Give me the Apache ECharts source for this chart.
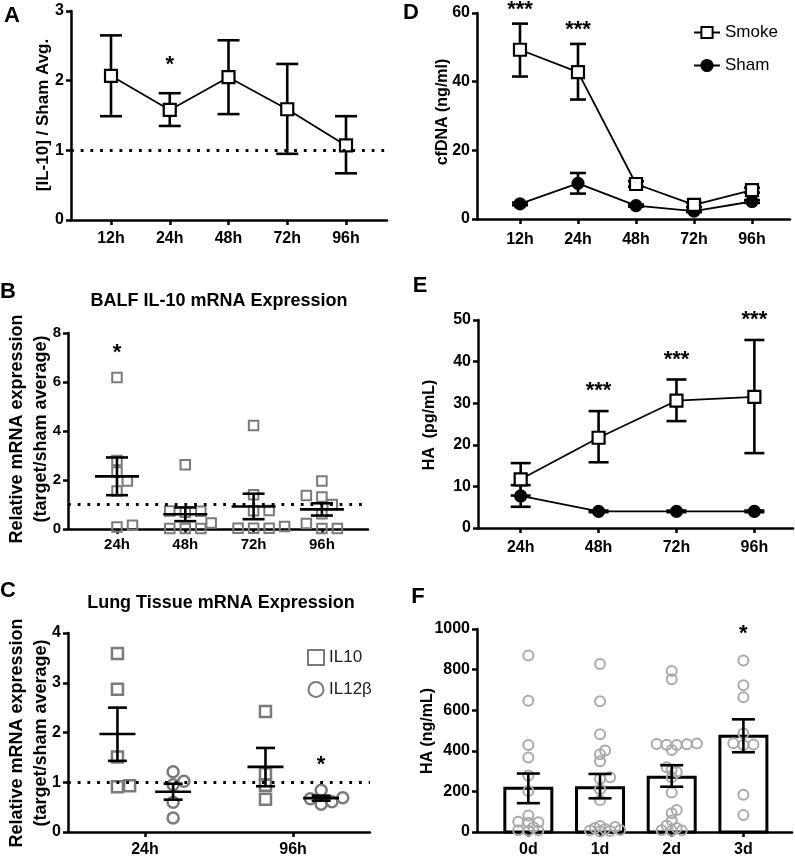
<!DOCTYPE html>
<html>
<head>
<meta charset="utf-8">
<script src="https://cdn.jsdelivr.net/npm/echarts@6/dist/echarts.min.js"></script>
<style>
html,body{margin:0;padding:0;background:#fff;}
#main{width:795px;height:858px;}
</style>
</head>
<body>
<div id="main"></div>
<script>
/******************** A: IL-10 / Sham ********************/
var timeA = ['12h', '24h', '48h', '72h', '96h'];
var meanA = [2.07, 1.58, 2.05, 1.59, 1.07];
var lowA = [1.49, 1.35, 1.52, 0.95, 0.67];
var highA = [2.65, 1.82, 2.58, 2.24, 1.49];
var sigA = ['', '*', '', '', ''];

/******************** D: cfDNA ********************/
var timeD = ['12h', '24h', '48h', '72h', '96h'];
var smokeD = [49.3, 42.8, 10.2, 4.1, 8.4];
var smokeLowD = [41.5, 34.8, 9.4, 3.5, 7.7];
var smokeHighD = [56.9, 51.0, 11.0, 4.7, 9.1];
var shamD = [4.4, 10.4, 3.9, 2.3, 5.1];
var shamLowD = [4.0, 7.4, 3.6, 2.0, 4.7];
var shamHighD = [4.8, 13.4, 4.2, 2.6, 5.5];
var sigD = ['***', '***', '', '', ''];

/******************** B: BALF IL-10 mRNA ********************/
var timeB = ['24h', '48h', '72h', '96h'];
var balf24 = [6.18, 2.33, 1.96, 2.80, 1.55, 0.08, 0.15];
var balf48 = [2.62, 0.73, 0.68, 0.72, 0.24, 0.02, 0.02, 0.02];
var balf72 = [4.22, 1.40, 0.76, 0.74, 0.10, 0.03, 0.03, 0.03];
var balf96 = [1.96, 1.31, 1.37, 1.00, 0.62, 0.22, 0.02, 0.02];
var meanB = [2.15, 0.60, 0.92, 0.80];
var lowB = [1.38, 0.32, 0.40, 0.55];
var highB = [2.92, 0.88, 1.44, 1.05];
var sigB = ['*', '', '', ''];

/******************** E: HA (pg/mL) ********************/
var timeE = ['24h', '48h', '72h', '96h'];
var smokeE = [11.7, 21.7, 30.6, 31.5];
var smokeLowE = [7.8, 15.8, 25.7, 18.0];
var smokeHighE = [15.6, 28.1, 35.7, 45.2];
var shamE = [7.7, 4.0, 4.0, 4.0];
var shamLowE = [5.1, 3.8, 3.8, 3.8];
var shamHighE = [10.3, 4.2, 4.2, 4.2];
var sigE = ['', '***', '***', '***'];

/******************** C: Lung tissue mRNA ********************/
var timeC = ['24h', '96h'];
var il10_24 = [3.59, 2.87, 1.51, 0.91, 0.93];
var il10_96 = [2.42, 1.17, 0.94, 0.66];
var il12_24 = [1.02, 0.95, 1.21, 0.60, 0.28];
var il12_96 = [0.69, 0.56, 0.61, 0.84, 0.67];
var meanIL10 = [1.97, 1.31];
var lowIL10 = [1.43, 0.92];
var highIL10 = [2.50, 1.69];
var meanIL12 = [0.81, 0.68];
var lowIL12 = [0.65, 0.63];
var highIL12 = [0.97, 0.73];
var sigIL12 = ['', '*'];

/******************** F: HA (ng/mL) ********************/
var dayF = ['0d', '1d', '2d', '3d'];
var ha0d = [869, 647, 429, 367, 278, 202, 81, 48, 50, 46, 24, 8, 6, 9];
var ha1d = [828, 644, 481, 401, 383, 348, 270, 262, 210, 157, 30, 20, 10, 5, 25, 8, 15, 3];
var ha2d = [793, 752, 434, 432, 404, 436, 430, 428, 319, 296, 270, 307, 194, 108, 92, 57, 32, 8, 6, 9, 20];
var ha3d = [845, 723, 664, 485, 437, 429, 431, 183, 84];
var meanF = [215, 218, 270, 472];
var lowF = [142, 166, 223, 393];
var highF = [288, 286, 329, 555];
var sigF = ['', '', '', '*'];

/******************** 布局 ********************/
var FONT = 'Liberation Sans';
var BLACK = '#000';
var GREY = '#7a7a7a';

// A, D, B, E, C, F
var grids = [
  {left: 71, top: 11, width: 316, height: 209},
  {left: 477, top: 13, width: 313, height: 206},
  {left: 68, top: 333, width: 300, height: 196},
  {left: 478, top: 320, width: 315, height: 208},
  {left: 68, top: 633, width: 302, height: 201},
  {left: 477, top: 629, width: 315, height: 206}
];
var xRange = [[-0.681, 4.698], [-0.741, 4.655], [-0.717, 3.675], [-0.548, 3.496], [-0.520, 1.520], [-0.716, 3.678]];
var xLabels = [timeA, timeD, timeB, timeE, timeC, dayF];
var yMax = [3, 60, 8, 50, 4, 1000];
var yStep = [1, 20, 2, 10, 1, 200];
var tickSize = [16, 16, 15, 16, 16, 16];
var xMargin = [11, 13, 8, 12, 10, 10];

function pxY(gi) { return grids[gi].height / yMax[gi]; }
function pxX(gi) { return grids[gi].width / (xRange[gi][1] - xRange[gi][0]); }
function idx(arr) { return arr.map(function (d, i) { return i; }); }
function shift(arr, d) { return idx(arr).map(function (i) { return i + d; }); }
function maxOf(g) { return Math.max.apply(null, g); }

var xAxes = grids.map(function (g, gi) {
  return {
    gridIndex: gi, type: 'value', min: xRange[gi][0], max: xRange[gi][1],
    splitLine: {show: false},
    axisLine: {onZero: false, lineStyle: {color: BLACK, width: 2.5}},
    axisTick: {customValues: idx(xLabels[gi]), length: 5, lineStyle: {color: BLACK, width: 2.5}},
    axisLabel: {
      customValues: idx(xLabels[gi]),
      formatter: function (v) { return xLabels[gi][Math.round(v)]; },
      margin: xMargin[gi], color: BLACK, fontSize: tickSize[gi], fontWeight: 'bold', fontFamily: FONT
    }
  };
});
var yAxes = grids.map(function (g, gi) {
  return {
    gridIndex: gi, type: 'value', min: 0, max: yMax[gi], interval: yStep[gi],
    splitLine: {show: false},
    axisLine: {show: true, onZero: false, lineStyle: {color: BLACK, width: 2.5}},
    axisTick: {show: true, length: 5, lineStyle: {color: BLACK, width: 2.5}},
    axisLabel: {
      margin: 7, color: BLACK, fontSize: tickSize[gi], fontWeight: 'bold', fontFamily: FONT,
      formatter: function (v) { return String(v); }
    }
  };
});

// 散点错开 (beeswarm): step = horizontal step, tight = allowed overlap
function swarm(values, py, size, step, tight) {
  var placed = [], offs = [];
  var lim = size * tight;
  var order = idx(values).sort(function (a, b) { return values[a] - values[b]; });
  order.forEach(function (i) {
    var y = values[i] * py, k = 0, x;
    while (true) {
      x = (k % 2 ? 1 : -1) * Math.ceil(k / 2) * size * step;
      var hit = placed.some(function (p) {
        var dx = p[0] - x, dy = p[1] - y;
        return dx * dx + dy * dy < lim * lim;
      });
      if (!hit) break;
      k++;
    }
    placed.push([x, y]);
    offs[i] = x;
  });
  return offs;
}

var dotted = {
  silent: true, symbol: 'none', label: {show: false},
  lineStyle: {color: BLACK, type: [2.8, 6.9], width: 2.8},
  data: [{yAxis: 1}]
};

function lineStyleObj() { return {stroke: BLACK, lineWidth: 2.6}; }

function errSeries(gi, xs, lo, hi, mid, capHalf, midHalf, z) {
  return {
    type: 'custom', xAxisIndex: gi, yAxisIndex: gi, z: z, silent: true, clip: false,
    data: xs.map(function (x, i) { return [x, lo[i], hi[i], mid ? mid[i] : hi[i]]; }),
    renderItem: function (params, api) {
      var x = api.value(0);
      var a = api.coord([x, api.value(1)]), b = api.coord([x, api.value(2)]);
      var kids = [
        {type: 'line', shape: {x1: a[0], y1: a[1], x2: b[0], y2: b[1]}, style: lineStyleObj()},
        {type: 'line', shape: {x1: a[0] - capHalf, y1: a[1], x2: a[0] + capHalf, y2: a[1]}, style: lineStyleObj()},
        {type: 'line', shape: {x1: b[0] - capHalf, y1: b[1], x2: b[0] + capHalf, y2: b[1]}, style: lineStyleObj()}
      ];
      if (midHalf) {
        var m = api.coord([x, api.value(3)]);
        kids.push({type: 'line', shape: {x1: m[0] - midHalf, y1: m[1], x2: m[0] + midHalf, y2: m[1]}, style: lineStyleObj()});
      }
      return {type: 'group', children: kids};
    }
  };
}

function lineSeries(gi, name, vals, symbol, size, fill, z) {
  return {
    type: 'line', name: name, xAxisIndex: gi, yAxisIndex: gi, z: z,
    data: vals.map(function (v, i) { return [i, v]; }),
    symbol: symbol, symbolSize: size, showSymbol: true, clip: false,
    itemStyle: {color: fill, borderColor: BLACK, borderWidth: 2.2},
    lineStyle: {color: BLACK, width: 1.8},
    emphasis: {disabled: true}
  };
}

function swarmSeries(gi, name, groups, centers, symbol, size, color, bw, step, tight, z) {
  var py = pxY(gi), px = pxX(gi), data = [];
  groups.forEach(function (g, k) {
    var offs = swarm(g, py, size + bw, step, tight);
    g.forEach(function (v, j) { data.push([centers[k] + offs[j] / px, v]); });
  });
  return {
    type: 'scatter', name: name, xAxisIndex: gi, yAxisIndex: gi, z: z, clip: false,
    data: data, symbol: symbol, symbolSize: size,
    itemStyle: {color: 'rgba(255,255,255,0)', borderColor: color, borderWidth: bw, opacity: 1},
    emphasis: {disabled: true}
  };
}

function starSeries(gi, sig, xs, tops, gap) {
  var rows = [], txt = [];
  sig.forEach(function (s, i) { if (s) { rows.push([xs[i], tops[i]]); txt.push(s); } });
  return {
    type: 'custom', xAxisIndex: gi, yAxisIndex: gi, z: 6, silent: true, clip: false, data: rows,
    renderItem: function (params, api) {
      var p = api.coord([api.value(0), api.value(1)]);
      return {
        type: 'text', x: p[0], y: p[1] - gap + 5,
        style: {text: txt[params.dataIndex], fill: BLACK, fontSize: 22, fontWeight: 'bold', fontFamily: FONT,
          align: 'center', verticalAlign: 'middle', textAlign: 'center', textVerticalAlign: 'middle'}
      };
    }
  };
}

function barSeries(gi, means, halfW) {
  return {
    type: 'custom', xAxisIndex: gi, yAxisIndex: gi, z: 1, silent: true,
    data: means.map(function (v, i) { return [i, v]; }),
    renderItem: function (params, api) {
      var b = api.coord([api.value(0), 0]), t = api.coord([api.value(0), api.value(1)]);
      return {
        type: 'rect',
        shape: {x: b[0] - halfW, y: t[1], width: 2 * halfW, height: b[1] - t[1]},
        style: {fill: '#fff', stroke: BLACK, lineWidth: 3}
      };
    }
  };
}

var il10x = shift(timeC, -0.186);
var il12x = shift(timeC, 0.19);
var balfGroups = [balf24, balf48, balf72, balf96];
var haGroups = [ha0d, ha1d, ha2d, ha3d];

var series = [];
// D (first, so the legend takes its icons)
series.push(errSeries(1, idx(timeD), smokeLowD, smokeHighD, null, 8, 0, 1));
series.push(errSeries(1, idx(timeD), shamLowD, shamHighD, null, 8, 0, 1));
series.push(lineSeries(1, 'Smoke', smokeD, 'rect', 12, '#fff', 3));
series.push(lineSeries(1, 'Sham', shamD, 'circle', 11, BLACK, 2));
series.push(starSeries(1, sigD, idx(timeD), smokeHighD, 19));
// A
series.push(errSeries(0, idx(timeA), lowA, highA, null, 11, 0, 1));
var lineA = lineSeries(0, 'IL-10', meanA, 'rect', 12, '#fff', 3);
lineA.markLine = dotted;
series.push(lineA);
series.push(starSeries(0, sigA, idx(timeA), highA, 33));
// B
var scB = swarmSeries(2, 'BALF', balfGroups, idx(timeB), 'rect', 9.5, GREY, 2, 0.45, 1.0, 1);
scB.markLine = dotted;
series.push(scB);
series.push(errSeries(2, idx(timeB), lowB, highB, meanB, 11, 22, 3));
series.push(starSeries(2, sigB, idx(timeB), balfGroups.map(maxOf), 30));
// E
series.push(errSeries(3, idx(timeE), smokeLowE, smokeHighE, null, 10, 0, 1));
series.push(errSeries(3, idx(timeE), shamLowE, shamHighE, null, 10, 0, 1));
series.push(lineSeries(3, 'HA Sham', shamE, 'circle', 11, BLACK, 2));
series.push(lineSeries(3, 'HA Smoke', smokeE, 'rect', 12, '#fff', 3));
series.push(starSeries(3, sigE, idx(timeE), smokeHighE, 25));
// C
var scC10 = swarmSeries(4, 'IL10', [il10_24, il10_96], il10x, 'rect', 11, GREY, 2.5, 0.45, 0.75, 1);
scC10.markLine = dotted;
series.push(scC10);
series.push(swarmSeries(4, 'IL12β', [il12_24, il12_96], il12x, 'circle', 11, GREY, 2.5, 0.4, 0.6, 1));
series.push(errSeries(4, il10x, lowIL10, highIL10, meanIL10, 9.5, 18, 3));
series.push(errSeries(4, il12x, lowIL12, highIL12, meanIL12, 9.5, 18, 3));
series.push(starSeries(4, sigIL12, il12x, [il12_24, il12_96].map(maxOf), 30));
// F
series.push(barSeries(5, meanF, 23.5));
series.push(swarmSeries(5, 'HA', haGroups, idx(dayF), 'circle', 10, '#a9a9a9', 2, 0.42, 0.45, 2));
series.push(errSeries(5, idx(dayF), lowF, highF, null, 11.5, 0, 3));
series.push(starSeries(5, sigF, idx(dayF), haGroups.map(maxOf), 32));

function txt(x, y, s, size, opts) {
  var st = {text: s, fill: BLACK, fontSize: size, fontWeight: 'bold', fontFamily: FONT,
    align: 'center', verticalAlign: 'middle', textAlign: 'center', textVerticalAlign: 'middle'};
  if (opts && opts.lineHeight) st.lineHeight = opts.lineHeight;
  return {type: 'text', x: x, y: y, rotation: opts && opts.rot ? Math.PI / 2 : 0, style: st, silent: true};
}

var relName = 'Relative mRNA expression\n(target/sham average)';
var graphics = [
  txt(12, 16, 'A', 22), txt(411, 13, 'D', 22), txt(8, 292, 'B', 22),
  txt(420, 286, 'E', 22), txt(8, 591, 'C', 22), txt(418, 597, 'F', 22),
  txt(219, 301, 'BALF IL-10 mRNA Expression', 18),
  txt(221, 603, 'Lung Tissue mRNA Expression', 18),
  txt(43, 115, '[IL-10] / Sham Avg.', 17, {rot: true}),
  txt(443, 112, 'cfDNA (ng/ml)', 16, {rot: true}),
  txt(29, 429, relName, 18, {rot: true, lineHeight: 24}),
  txt(430, 425, 'HA  (pg/mL)', 16, {rot: true}),
  txt(29, 733, relName, 18, {rot: true, lineHeight: 24}),
  txt(428, 731, 'HA (ng/mL)', 16, {rot: true})
];

var myChart = echarts.init(document.getElementById('main'));
var option = {
  animation: false,
  backgroundColor: '#fff',
  grid: grids,
  xAxis: xAxes,
  yAxis: yAxes,
  legend: [
    {
      data: ['Smoke', 'Sham'], orient: 'vertical', left: 688, top: 19,
      itemWidth: 26, itemHeight: 14, itemGap: 16, selectedMode: false,
      textStyle: {color: BLACK, fontSize: 17, fontFamily: FONT}
    },
    {
      data: ['IL10', 'IL12β'], orient: 'vertical', left: 302, top: 644,
      itemWidth: 16, itemHeight: 15, itemGap: 15, selectedMode: false,
      textStyle: {color: '#222', fontSize: 17, fontFamily: FONT}
    }
  ],
  graphic: graphics,
  series: series
};
myChart.setOption(option);
</script>
</body>
</html>
